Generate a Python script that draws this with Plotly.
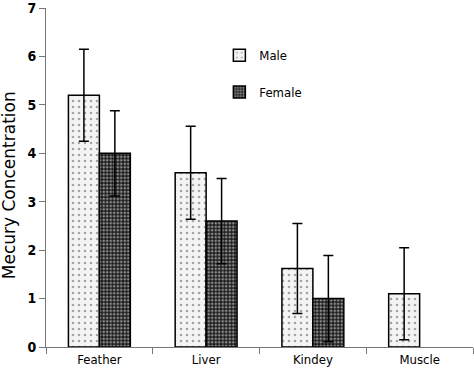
import plotly.graph_objects as go

categories = ["Feather", "Liver", "Kindey", "Muscle"]
male = [5.2, 3.6, 1.62, 1.1]
male_err = [0.95, 0.96, 0.93, 0.95]
female = [4.0, 2.6, 1.0, 0]
female_err = [0.88, 0.88, 0.89, 0]
y_ticks = [0, 1, 2, 3, 4, 5, 6, 7]

tick_font = "DejaVu Sans Condensed, Liberation Sans, sans-serif"

fig = go.Figure()
fig.add_trace(go.Bar(
    name="Male", x=categories, y=male, legendgroup="m",
    error_y=dict(type="data", array=male_err, color="black", thickness=1.5, width=5),
    marker=dict(color="white", line=dict(color="black", width=1.5),
                pattern=dict(shape=".", fgcolor="#555555", bgcolor="#f4f4f4", size=6, solidity=0.15)),
))
female_err_vis = [e if v > 0 else None for v, e in zip(female, female_err)]
fig.add_trace(go.Bar(
    name="Female", x=categories, y=[v if v > 0 else None for v in female], legendgroup="f",
    error_y=dict(type="data", array=female_err_vis, color="black", thickness=1.5, width=5),
    marker=dict(color="black", line=dict(color="black", width=1.5),
                pattern=dict(shape=".", fgcolor="#ffffff", bgcolor="#1a1a1a", size=3.5, solidity=0.45)),
))

fig.update_layout(
    width=474, height=381,
    margin=dict(l=46, r=1, t=8, b=34, autoexpand=False),
    paper_bgcolor="white", plot_bgcolor="white",
    barmode="group", bargap=0.42, bargroupgap=0,
    font=dict(family=tick_font, size=13, color="black"),
    legend=dict(x=0.406, y=0.905, xanchor="left", yanchor="top",
                bgcolor="rgba(0,0,0,0)", tracegroupgap=17, traceorder="grouped",
                font=dict(size=13, family=tick_font), itemwidth=30),
    xaxis=dict(showline=True, linecolor="#777777", linewidth=1, ticks="outside",
               tickson="boundaries", ticklen=6, tickcolor="#777777", automargin=False,
               tickfont=dict(size=13, family=tick_font), showgrid=False),
    yaxis=dict(range=[0, 7.001], tickvals=y_ticks, showline=True, linecolor="#777777", linewidth=1,
               ticks="outside", ticklen=6, tickcolor="#777777", showgrid=False, zeroline=False,
               automargin=False, ticklabeloverflow="allow",
               tickfont=dict(size=14, family=tick_font, weight="bold")),
    showlegend=True,
    annotations=[dict(text="Mecury Concentration", textangle=-90, xref="paper", yref="paper",
                      x=-0.086, y=0.478, xanchor="center", yanchor="middle", showarrow=False,
                      font=dict(size=17, family="DejaVu Sans, sans-serif"))],
)

fig.write_html("out.html", config={"displayModeBar": False},
               post_script="document.body.style.margin='0px';")
